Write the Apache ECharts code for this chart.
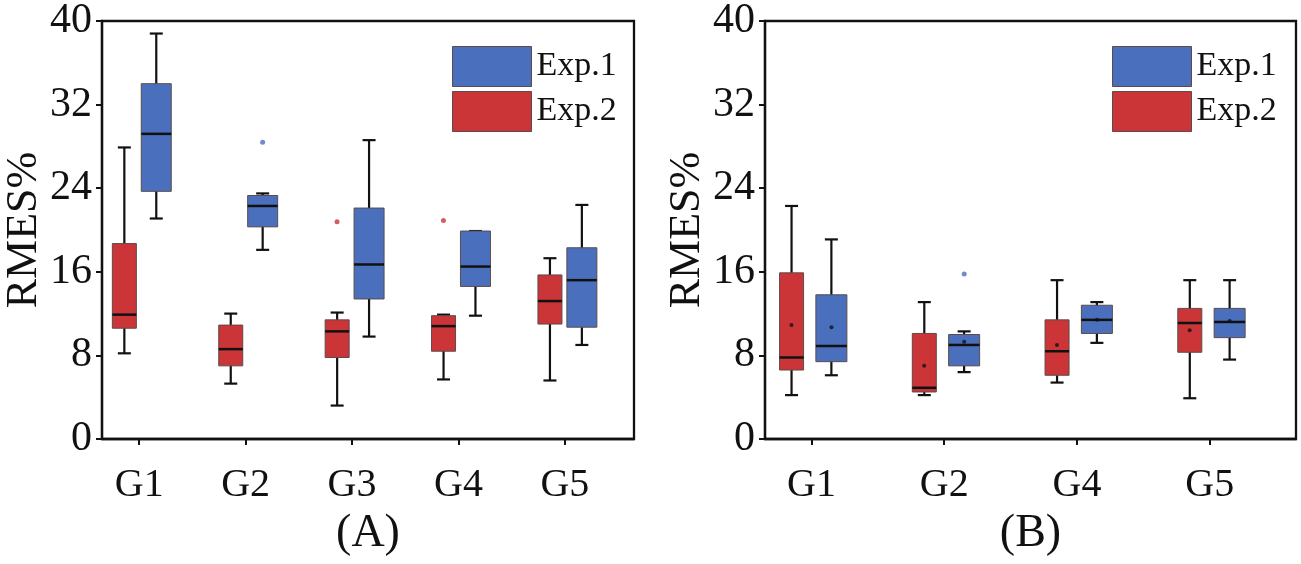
<!DOCTYPE html>
<html>
<head>
<meta charset="utf-8">
<script src="https://cdn.jsdelivr.net/npm/echarts@6/dist/echarts.min.js"></script>
<style>
  html, body { margin: 0; padding: 0; background: #fff; }
  #main { width: 1301px; height: 564px; }
</style>
</head>
<body>
<div id="main"></div>
<script>
// categories of each panel
var groupsA = ['G1', 'G2', 'G3', 'G4', 'G5'];
var groupsB = ['G1', 'G2', 'G4', 'G5'];
var yTicks = [0, 8, 16, 24, 32, 40];

// box values: [low whisker, Q1, median, Q3, high whisker]
var exp1A = [
  [21.1, 23.7, 29.2, 34.0, 38.8],
  [18.1, 20.3, 22.3, 23.3, 23.5],
  [9.8, 13.4, 16.7, 22.1, 28.6],
  [11.8, 14.6, 16.5, 19.9, 19.9],
  [9.0, 10.7, 15.2, 18.3, 22.4]
];
var exp2A = [
  [8.2, 10.6, 11.9, 18.7, 27.9],
  [5.3, 7.0, 8.6, 10.9, 12.0],
  [3.2, 7.8, 10.3, 11.4, 12.1],
  [5.7, 8.4, 10.8, 11.8, 11.9],
  [5.6, 11.0, 13.2, 15.7, 17.3]
];
var exp1B = [
  [6.1, 7.4, 8.9, 13.8, 19.1],
  [6.4, 7.0, 9.0, 10.0, 10.3],
  [9.2, 10.1, 11.4, 12.8, 13.1],
  [7.6, 9.7, 11.2, 12.5, 15.2]
];
var exp2B = [
  [4.2, 6.6, 7.8, 15.9, 22.3],
  [4.2, 4.5, 4.9, 10.1, 13.1],
  [5.4, 6.1, 8.4, 11.4, 15.2],
  [3.9, 8.3, 11.1, 12.5, 15.2]
];
// outliers: [group number, value]
var out1A = [[2, 28.4]];
var out2A = [[3, 20.8], [4, 20.9]];
var out1B = [[2, 15.8]];
var out2B = [];
// means shown in panel B
var mean1B = [10.7, 9.3, 11.4, 11.3];
var mean2B = [10.9, 7.0, 9.0, 10.4];

var BLUE = '#4a70bd';
var RED = '#cb3538';
var FONT = '"Liberation Serif", "Times New Roman", serif';

// add group position (1..n) in front of each box
function withPos(rows) {
  return rows.map(function (r, i) { return [i + 1].concat(r); });
}
function meanPts(vals) {
  return vals.map(function (v, i) { return [i + 1, v]; });
}

// draws one box with whiskers, shifted sideways by a part of a group width
function boxRenderer(shift, boxW, color) {
  return function (params, api) {
    var x = api.value(0);
    var dx = api.size([1, 0])[0] * shift;
    var lo = api.coord([x, api.value(1)]);
    var q1 = api.coord([x, api.value(2)]);
    var md = api.coord([x, api.value(3)]);
    var q3 = api.coord([x, api.value(4)]);
    var hi = api.coord([x, api.value(5)]);
    var cx = lo[0] + dx;
    var h = boxW / 2, cap = 6.5;
    var ink = { stroke: '#111', lineWidth: 2.2 };
    return {
      type: 'group',
      children: [
        { type: 'line', shape: { x1: cx, y1: hi[1], x2: cx, y2: lo[1] }, style: ink },
        { type: 'line', shape: { x1: cx - cap, y1: hi[1], x2: cx + cap, y2: hi[1] }, style: ink },
        { type: 'line', shape: { x1: cx - cap, y1: lo[1], x2: cx + cap, y2: lo[1] }, style: ink },
        { type: 'rect', shape: { x: cx - h, y: q3[1], width: boxW, height: q1[1] - q3[1] },
          style: { fill: color, stroke: '#5b4b4b', lineWidth: 1 } },
        { type: 'line', shape: { x1: cx - h, y1: md[1], x2: cx + h, y2: md[1] },
          style: { stroke: '#111', lineWidth: 2.5 } }
      ]
    };
  };
}

function boxSeries(name, idx, rows, shift, boxW, color) {
  return {
    name: name,
    type: 'custom',
    xAxisIndex: idx,
    yAxisIndex: idx,
    itemStyle: { color: color },
    encode: { x: 0, y: [1, 2, 3, 4, 5] },
    renderItem: boxRenderer(shift, boxW, color),
    data: withPos(rows),
    z: 2
  };
}

function dotSeries(idx, pts, color, size, offset) {
  return {
    type: 'scatter',
    xAxisIndex: idx,
    yAxisIndex: idx,
    symbol: 'circle',
    symbolSize: size,
    symbolOffset: [offset, 0],
    itemStyle: { color: color },
    data: pts,
    z: 5
  };
}

function xAxis(idx, groups, name) {
  var pos = groups.map(function (g, i) { return i + 1; });
  return {
    type: 'value',
    gridIndex: idx,
    min: 0.65,
    max: groups.length + 0.65,
    name: name,
    nameLocation: 'middle',
    nameGap: 72,
    nameTextStyle: { fontFamily: FONT, fontSize: 46, color: '#111' },
    axisLine: { lineStyle: { color: '#111', width: 2.3 } },
    axisTick: { show: true, customValues: pos, length: 6, lineStyle: { color: '#111', width: 2 } },
    axisLabel: {
      customValues: pos,
      formatter: function (v) { return groups[Math.round(v) - 1]; },
      fontFamily: FONT, fontSize: 40, color: '#111', margin: 26
    },
    splitLine: { show: false }
  };
}

function yAxis(idx) {
  return {
    type: 'value',
    gridIndex: idx,
    min: yTicks[0],
    max: yTicks[yTicks.length - 1],
    interval: 8,
    name: 'RMES%',
    nameLocation: 'middle',
    nameGap: 56,
    nameTextStyle: { fontFamily: FONT, fontSize: 44, color: '#111' },
    axisLine: { show: true, lineStyle: { color: '#111', width: 2.3 } },
    axisTick: { show: true, length: 6, lineStyle: { color: '#111', width: 2 } },
    axisLabel: { fontFamily: FONT, fontSize: 42, color: '#111', margin: 10 },
    splitLine: { show: false }
  };
}

function legend(left) {
  return {
    left: left,
    top: 41,
    orient: 'vertical',
    data: ['Exp.1', 'Exp.2'],
    icon: 'rect',
    itemWidth: 79,
    itemHeight: 40,
    itemGap: 4,
    itemStyle: { borderColor: '#5b4b4b', borderWidth: 1 },
    textStyle: { fontFamily: FONT, fontSize: 34, color: '#111' },
    selectedMode: false
  };
}

var myChart = echarts.init(document.getElementById('main'));
myChart.setOption({
  backgroundColor: '#fff',
  animation: false,
  legend: [legend(447), legend(1107)],
  grid: [
    { left: 102, top: 19, width: 532, height: 420, show: true, borderColor: '#111', borderWidth: 2.3 },
    { left: 765, top: 19, width: 531, height: 420, show: true, borderColor: '#111', borderWidth: 2.3 }
  ],
  xAxis: [xAxis(0, groupsA, '(A)'), xAxis(1, groupsB, '(B)')],
  yAxis: [yAxis(0), yAxis(1)],
  series: [
    boxSeries('Exp.1', 0, exp1A, 0.16, 30, BLUE),
    boxSeries('Exp.2', 0, exp2A, -0.14, 24, RED),
    boxSeries('Exp.1', 1, exp1B, 0.15, 31, BLUE),
    boxSeries('Exp.2', 1, exp2B, -0.15, 24, RED),
    dotSeries(0, out1A, BLUE, 5, 17),
    dotSeries(0, out2A, RED, 5, -15),
    dotSeries(1, out1B, BLUE, 5, 20),
    dotSeries(1, out2B, RED, 5, -20),
    dotSeries(1, meanPts(mean1B), '#111', 4, 20),
    dotSeries(1, meanPts(mean2B), '#111', 4, -20)
  ]
});
</script>
</body>
</html>
